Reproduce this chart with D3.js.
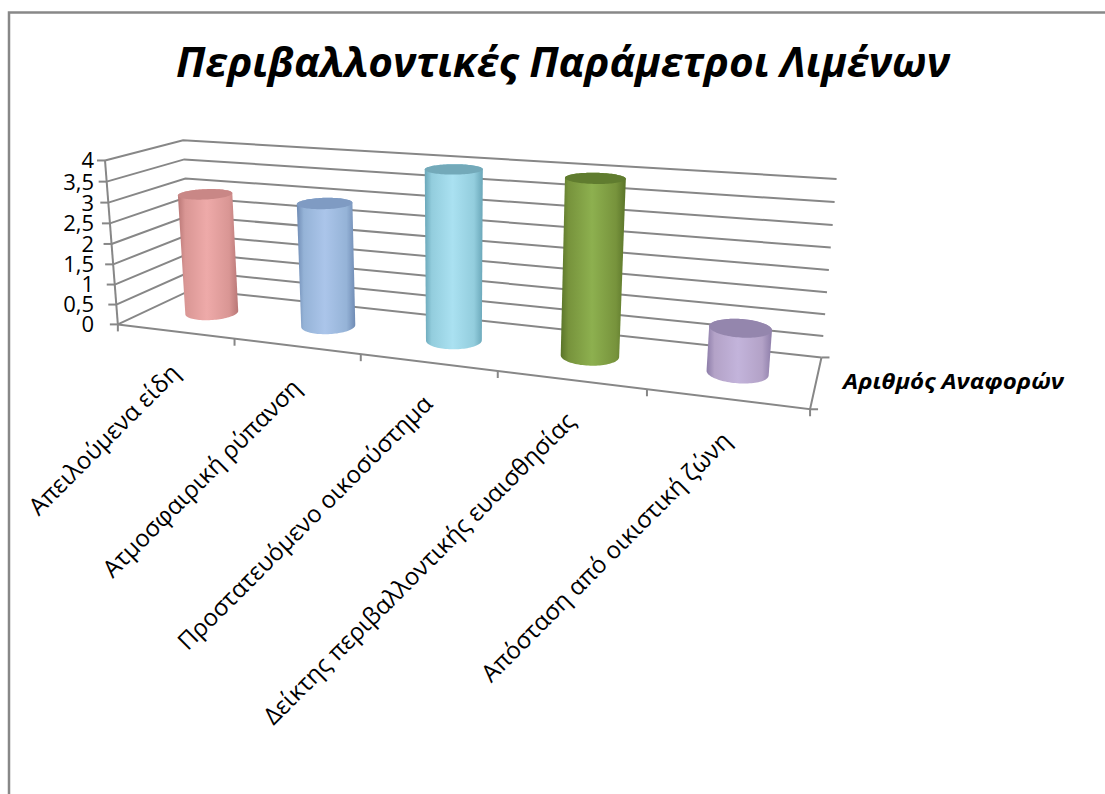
<!DOCTYPE html>
<html>
<head>
<meta charset="utf-8">
<script src="https://cdn.jsdelivr.net/npm/d3@7"></script>
<style>
  html, body { margin: 0; padding: 0; background: #ffffff; }
  svg { display: block; }
</style>
</head>
<body>
<svg id="chart" width="1105" height="794"></svg>
<script>
// ---------------- data ----------------
const title = "Περιβαλλοντικές Παράμετροι Λιμένων";
const seriesName = "Αριθμός Αναφορών";
const categories = [
  "Απειλούμενα είδη",
  "Ατμοσφαιρική ρύπανση",
  "Προστατευόμενο οικοσύστημα",
  "Δείκτης περιβαλλοντικής ευαισθησίας",
  "Απόσταση από οικιστική ζώνη"
];
const values = [3, 3, 4, 4, 1];
const valueTicks = [0, 0.5, 1, 1.5, 2, 2.5, 3, 3.5, 4];
const valueTickLabels = ["0", "0,5", "1", "1,5", "2", "2,5", "3", "3,5", "4"];

// colours per point: [dark edge, mid, highlight, top]
const pointColors = [
  ["#b97776", "#d99694", "#eeaaa9", "#c98786"],
  ["#6f8bb4", "#95b3d7", "#abc5ea", "#7f9bc3"],
  ["#6aa7b9", "#93cddd", "#aae1f1", "#73a9b9"],
  ["#5a7429", "#77933c", "#8db04f", "#607c2f"],
  ["#8d7da9", "#b3a2c7", "#c3b4db", "#9486ad"]
];

// ---------------- layout: 3D frame calibration ----------------
// world: X along categories [0..5], Y value [0..4], Z depth [0 front .. 1 back]
const frameAnchors = [
  { w: [0, 0, 0], p: [118, 324] },
  { w: [1, 0, 0], p: [235, 340] },
  { w: [2, 0, 0], p: [361, 355] },
  { w: [3, 0, 0], p: [497, 371.7] },
  { w: [4, 0, 0], p: [647, 390] },
  { w: [5, 0, 0], p: [810, 408] },
  { w: [0, 1, 0], p: [114.75, 284] },
  { w: [0, 2, 0], p: [111.5, 243.3] },
  { w: [0, 3, 0], p: [108.25, 201.7] },
  { w: [0, 4, 0], p: [105, 160.7] },
  { w: [0, 4, 1], p: [183, 141] },
  { w: [0, 0, 1], p: [192, 289] },
  { w: [5, 4, 1], p: [836.7, 179.3] },
  { w: [5, 2, 1], p: [829, 269.3] },
  { w: [5, 0, 1], p: [821.5, 357.3] }
];

function fitProjection(anchors) {
  const cu = 500, cv = 250, s = 400;
  const A = [], b = [];
  anchors.forEach(({ w: [X, Y, Z], p: [u0, v0] }) => {
    const u = (u0 - cu) / s, v = (v0 - cv) / s;
    A.push([X, Y, Z, 1, 0, 0, 0, 0, -u * X, -u * Y, -u * Z]); b.push(u);
    A.push([0, 0, 0, 0, X, Y, Z, 1, -v * X, -v * Y, -v * Z]); b.push(v);
  });
  const n = 11;
  const M = Array.from({ length: n }, () => new Array(n + 1).fill(0));
  for (let r = 0; r < A.length; r++) {
    for (let i = 0; i < n; i++) {
      for (let j = 0; j < n; j++) M[i][j] += A[r][i] * A[r][j];
      M[i][n] += A[r][i] * b[r];
    }
  }
  for (let c = 0; c < n; c++) {
    let piv = c;
    for (let r = c + 1; r < n; r++) if (Math.abs(M[r][c]) > Math.abs(M[piv][c])) piv = r;
    [M[c], M[piv]] = [M[piv], M[c]];
    for (let r = 0; r < n; r++) {
      if (r === c) continue;
      const f = M[r][c] / M[c][c];
      for (let k = c; k <= n; k++) M[r][k] -= f * M[c][k];
    }
  }
  const p = M.map((row, i) => row[n] / row[i]);
  return (X, Y, Z) => {
    const w = p[8] * X + p[9] * Y + p[10] * Z + 1;
    const u = (p[0] * X + p[1] * Y + p[2] * Z + p[3]) / w;
    const v = (p[4] * X + p[5] * Y + p[6] * Z + p[7]) / w;
    return [u * s + cu, v * s + cv];
  };
}
const proj = fitProjection(frameAnchors);

// ---------------- scales ----------------
const xBand = d3.scaleBand().domain(categories).range([0, categories.length]).padding(0);
const yVal = d3.scaleLinear().domain([0, 4]).range([0, 4]);
const X0 = 0, X1 = categories.length, Z0 = 0, Z1 = 1;
const colFrac = 0.4;
const radius = xBand.bandwidth() * colFrac / 2;
const zCenter = 0.5;

const svg = d3.select("#chart");
const gridColor = "#878787";
const FONT = "'Open Sans', 'Noto Sans', sans-serif";

// outer border
svg.append("rect").attr("x", 9).attr("y", 12.5).attr("width", 1200).attr("height", 1000)
  .attr("fill", "#ffffff").attr("stroke", "#888888").attr("stroke-width", 2.5);

const line = d3.line();
const gGrid = svg.append("g").attr("fill", "none").attr("stroke", gridColor).attr("stroke-width", 2);

// back wall + side wall gridlines
valueTicks.forEach(v => {
  const y = yVal(v);
  gGrid.append("path").attr("d", line([proj(X0, y, Z0), proj(X0, y, Z1), proj(X1, y, Z1)]));
});
// floor front edge and right edge
gGrid.append("path").attr("d", line([proj(X0, 0, Z0), proj(X1, 0, Z0), proj(X1, 0, Z1)]));
// value axis line
gGrid.append("path").attr("d", line([proj(X0, yVal(0), Z0), proj(X0, yVal(4), Z0)]));
// value axis ticks
valueTicks.forEach(v => {
  const p = proj(X0, yVal(v), Z0);
  gGrid.append("path").attr("d", line([[p[0] - 8, p[1]], p]));
});
// category boundary ticks
d3.range(categories.length + 1).forEach(i => {
  const p = proj(i * xBand.step(), 0, Z0);
  gGrid.append("path").attr("d", line([p, [p[0], p[1] + 7]]));
});
// depth axis ticks
[Z0, Z1].forEach(z => {
  const p = proj(X1, 0, z);
  gGrid.append("path").attr("d", line([p, [p[0] + 8, p[1]]]));
});

// ---------------- cylinders ----------------
const defs = svg.append("defs");
const gBars = svg.append("g");
categories.forEach((c, i) => {
  const cx = xBand(c) + xBand.bandwidth() / 2;
  const h = yVal(values[i]);
  const col = pointColors[i];
  const grad = defs.append("linearGradient").attr("id", "grad" + i)
    .attr("x1", "0").attr("x2", "1").attr("y1", "0").attr("y2", "0");
  [[0, col[0]], [0.12, col[1]], [0.48, col[2]], [0.85, col[1]], [1, col[0]]].forEach(([o, cc]) =>
    grad.append("stop").attr("offset", o).attr("stop-color", cc));
  const N = 96;
  const ring = y => d3.range(N).map(k => {
    const t = 2 * Math.PI * k / N;
    return proj(cx + radius * Math.cos(t), y, zCenter + radius * Math.sin(t));
  });
  const bottom = ring(0), top = ring(h);
  const hull = d3.polygonHull(bottom.concat(top));
  gBars.append("path").attr("d", "M" + hull.join("L") + "Z").attr("fill", `url(#grad${i})`);
  gBars.append("path").attr("d", "M" + top.join("L") + "Z").attr("fill", col[3]);
});

// ---------------- text ----------------
svg.append("text").text(title)
  .attr("x", 563).attr("y", 77)
  .attr("text-anchor", "middle")
  .attr("font-family", FONT).attr("font-weight", "bold").attr("font-style", "italic")
  .attr("font-size", 41)
  .attr("textLength", 774).attr("lengthAdjust", "spacingAndGlyphs")
  .attr("fill", "#000");

// value tick labels
const axisTopX = proj(X0, yVal(4), Z0)[0];
valueTicks.forEach((v, i) => {
  const p = proj(X0, yVal(v), Z0);
  svg.append("text").text(valueTickLabels[i])
    .attr("x", axisTopX - 11).attr("y", p[1]).attr("dy", "0.36em")
    .attr("text-anchor", "end")
    .attr("font-family", FONT).attr("font-size", 22).attr("fill", "#000");
});

// category labels
categories.forEach(c => {
  const p = proj(xBand(c) + xBand.bandwidth() / 2, 0, Z0);
  svg.append("text").text(c)
    .attr("transform", `translate(${p[0] + 6},${p[1] + 43}) rotate(-45)`)
    .attr("text-anchor", "end")
    .attr("font-family", FONT).attr("font-size", 24).attr("fill", "#000");
});

// series (depth) axis label
const pd = proj(X1, 0, (Z0 + Z1) / 2);
svg.append("text").text(seriesName)
  .attr("x", pd[0] + 27).attr("y", pd[1] + 7)
  .attr("font-family", FONT).attr("font-weight", "bold").attr("font-style", "italic")
  .attr("font-size", 21)
  .attr("textLength", 221).attr("lengthAdjust", "spacingAndGlyphs")
  .attr("fill", "#000");
</script>
</body>
</html>
